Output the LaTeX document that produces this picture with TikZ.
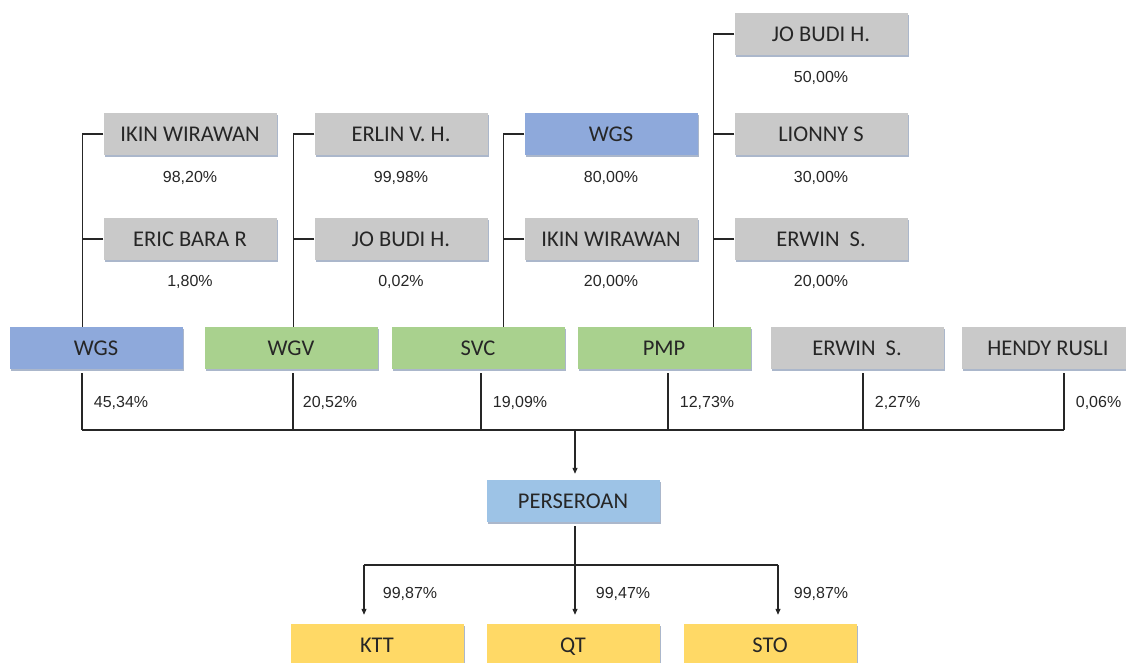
\documentclass[tikz,border=0pt]{standalone}
\usepackage{fontspec}
\setmainfont{Carlito}
\newfontfamily\pctfont{Liberation Sans}
\usetikzlibrary{shapes,arrows.meta,positioning,shadows,calc}

\definecolor{boxgray}{RGB}{201,201,201}
\definecolor{boxblue}{RGB}{142,169,219}
\definecolor{boxgreen}{RGB}{169,209,142}
\definecolor{boxsky}{RGB}{157,195,230}
\definecolor{boxyellow}{RGB}{255,217,102}
\definecolor{boxedge}{RGB}{150,165,190}

\tikzset{
  box/.style={rectangle, minimum width=173pt, minimum height=42pt, inner sep=0pt,
    text height=15pt, text depth=0.5pt,
    text=black!85, font=\fontsize{22.5}{24}\selectfont, yshift=-1pt,
    drop shadow={shadow xshift=1.2pt, shadow yshift=-1.6pt, fill=boxedge, opacity=0.8}},
  person/.style={box, fill=boxgray},
  pct/.style={font=\pctfont\fontsize{16}{19}\selectfont, text=black!85},
  link/.style={line width=1.1pt, draw=black!85},
  arr/.style={link, -{Triangle[length=6pt,width=5pt]}}
}

\begin{document}
\begin{tikzpicture}[x=1pt,y=-1pt]
    \useasboundingbox (0,0) rectangle (1126,662);
    \clip (0,0) rectangle (1126,662);

    % shareholders of the shareholders
    \node[person] (ikinA) at (190,133) {IKIN WIRAWAN};
    \node[person] (ericA) at (190,238) {ERIC BARA R};
    \node[person] (erlin) at (401,133) {ERLIN V. H.};
    \node[person] (jobudiA) at (401,238) {JO BUDI H.};
    \node[box, fill=boxblue] (wgsB) at (611,133) {WGS};
    \node[person] (ikinB) at (611,238) {IKIN WIRAWAN};
    \node[person] (jobudiB) at (821,33) {JO BUDI H.};
    \node[person] (lionny) at (821,133) {LIONNY S};
    \node[person] (erwinB) at (821,238) {ERWIN~ S.};

    \node[pct] (p1) at (190,178) {98,20\%};
    \node[pct] (p2) at (190,282) {1,80\%};
    \node[pct] (p3) at (401,178) {99,98\%};
    \node[pct] (p4) at (401,282) {0,02\%};
    \node[pct] (p5) at (611,178) {80,00\%};
    \node[pct] (p6) at (611,282) {20,00\%};
    \node[pct] (p7) at (821,78) {50,00\%};
    \node[pct] (p8) at (821,178) {30,00\%};
    \node[pct] (p9) at (821,282) {20,00\%};

    % shareholders of the company
    \node[box, fill=boxblue] (wgs) at (96,347) {WGS};
    \node[box, fill=boxgreen] (wgv) at (291,347) {WGV};
    \node[box, fill=boxgreen] (svc) at (478,347) {SVC};
    \node[box, fill=boxgreen] (pmp) at (664,347) {PMP};
    \node[person] (erwin) at (857,347) {ERWIN~ S.};
    \node[person] (hendy) at (1048,347) {HENDY RUSLI};

    \node[box, fill=boxsky] (perseroan) at (573,500) {PERSEROAN};

    \node[box, fill=boxyellow] (ktt) at (377,644) {KTT};
    \node[box, fill=boxyellow] (qt) at (573,644) {QT};
    \node[box, fill=boxyellow] (sto) at (770,644) {STO};

    % upper trees
    \draw[link] (ikinA.west) -- ++(-21,0) coordinate (jA) -- (jA |- wgs.north);
    \draw[link] (ericA.west) -- (ericA.west -| jA);
    \draw[link] (erlin.west) -- ++(-21,0) coordinate (jB) -- (jB |- wgv.north);
    \draw[link] (jobudiA.west) -- (jobudiA.west -| jB);
    \draw[link] (wgsB.west) -- ++(-21,0) coordinate (jC) -- (jC |- svc.north);
    \draw[link] (ikinB.west) -- (ikinB.west -| jC);
    \draw[link] (jobudiB.west) -- ++(-21,0) coordinate (jD) -- (jD |- pmp.north);
    \draw[link] (lionny.west) -- (lionny.west -| jD);
    \draw[link] (erwinB.west) -- (erwinB.west -| jD);

    % into the company
    \coordinate (bus) at (0,430);
    \draw[link, shorten <=4pt] ([xshift=-14pt]wgs.south) coordinate (dA) -- (dA |- bus) node[pct, pos=.55, anchor=west, xshift=8pt] {45,34\%};
    \draw[link, shorten <=4pt] ([xshift=2pt]wgv.south) coordinate (dB) -- (dB |- bus) node[pct, pos=.55, anchor=west, xshift=6pt] {20,52\%};
    \draw[link, shorten <=4pt] ([xshift=3pt]svc.south) coordinate (dC) -- (dC |- bus) node[pct, pos=.55, anchor=west, xshift=8pt] {19,09\%};
    \draw[link, shorten <=4pt] ([xshift=4pt]pmp.south) coordinate (dD) -- (dD |- bus) node[pct, pos=.55, anchor=west, xshift=8pt] {12,73\%};
    \draw[link, shorten <=4pt] ([xshift=6pt]erwin.south) coordinate (dE) -- (dE |- bus) node[pct, pos=.55, anchor=west, xshift=8pt] {2,27\%};
    \draw[link, shorten <=4pt] ([xshift=16pt]hendy.south) coordinate (dF) -- (dF |- bus) node[pct, pos=.55, anchor=west, xshift=8pt] {0,06\%};
    \draw[link] (dA |- bus) -- (dF |- bus);
    \draw[arr, shorten >=6pt] ([xshift=2pt]perseroan.north |- bus) -- ([xshift=2pt]perseroan.north);

    % subsidiaries
    \coordinate (split) at (0,565);
    \draw[link, shorten <=4pt] ([xshift=2pt]perseroan.south) coordinate (dS) -- (dS |- split);
    \draw[link] ([xshift=-13pt]ktt.north |- split) coordinate (sK) -- ([xshift=8pt]sto.north |- split) coordinate (sS);
    \draw[arr, shorten >=9pt] (sK) -- (sK |- ktt.north) node[pct, pos=.5, anchor=west, xshift=15pt] {99,87\%};
    \draw[arr, shorten >=9pt] (dS |- split) -- (dS |- qt.north) node[pct, pos=.5, anchor=west, xshift=17pt] {99,47\%};
    \draw[arr, shorten >=9pt] (sS) -- (sS |- sto.north) node[pct, pos=.5, anchor=west, xshift=12pt] {99,87\%};
\end{tikzpicture}
\end{document}
